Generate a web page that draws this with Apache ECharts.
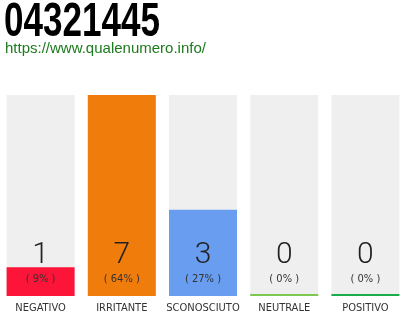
<!DOCTYPE html>
<html><head><meta charset="utf-8">
<script src="https://cdn.jsdelivr.net/npm/echarts@6/dist/echarts.min.js"></script>
<style>html,body{margin:0;padding:0;background:#fff}#c{width:410px;height:320px}</style>
</head><body><div id="c"></div>
<script>
const titleText = '04321445';
const urlText = 'https://www.qualenumero.info/';
const categories = ['NEGATIVO', 'IRRITANTE', 'SCONOSCIUTO', 'NEUTRALE', 'POSITIVO'];
const counts = [1, 7, 3, 0, 0];
const percents = [9, 64, 27, 0, 0];
const colors = ['#FC1439', '#F07D0B', '#689DF0', '#7CC850', '#1AAE4A'];

const maxCount = Math.max(...counts);
const condensed = '"DejaVu Sans Condensed"';
const chart = echarts.init(document.getElementById('c'));
chart.setOption({
  animation: false,
  graphic: [
    { type: 'text', x: 4, y: -1, scaleX: 0.73,
      style: { text: titleText, font: 'bold 48px "Liberation Sans"', fill: '#000', textVerticalAlign: 'top' } },
    { type: 'text', x: 5, y: 41,
      style: { text: urlText, font: '15px "Liberation Sans"', fill: '#1D7A1D', textVerticalAlign: 'top' } }
  ],
  grid: { left: -4, width: 410, top: 95, bottom: 24, containLabel: false },
  xAxis: {
    type: 'category', data: categories,
    axisLine: { show: false }, axisTick: { show: false },
    axisLabel: { color: '#333', fontFamily: condensed, fontSize: 11, margin: 7, interval: 0 }
  },
  yAxis: { type: 'value', min: 0, max: maxCount, show: false },
  series: [
    {
      type: 'bar', barWidth: 68, barMinHeight: 2,
      showBackground: true, backgroundStyle: { color: '#EFEFEF' },
      data: counts.map((v, i) => ({ value: v, itemStyle: { color: colors[i] } })),
      z: 2
    },
    {
      type: 'bar', barWidth: 68, barGap: '-100%',
      itemStyle: { color: 'rgba(0,0,0,0)' },
      data: counts.map(() => maxCount),
      z: 3,
      label: {
        show: true, position: 'insideBottom', distance: 9,
        formatter: p => '{n|' + counts[p.dataIndex] + '}\n{p|( ' + percents[p.dataIndex] + '% )}',
        rich: {
          n: { fontFamily: 'Roboto', fontWeight: 300, fontSize: 30, lineHeight: 32, color: '#222' },
          p: { fontFamily: condensed, fontSize: 11, lineHeight: 16, color: '#333' }
        }
      }
    }
  ]
});
</script></body></html>
